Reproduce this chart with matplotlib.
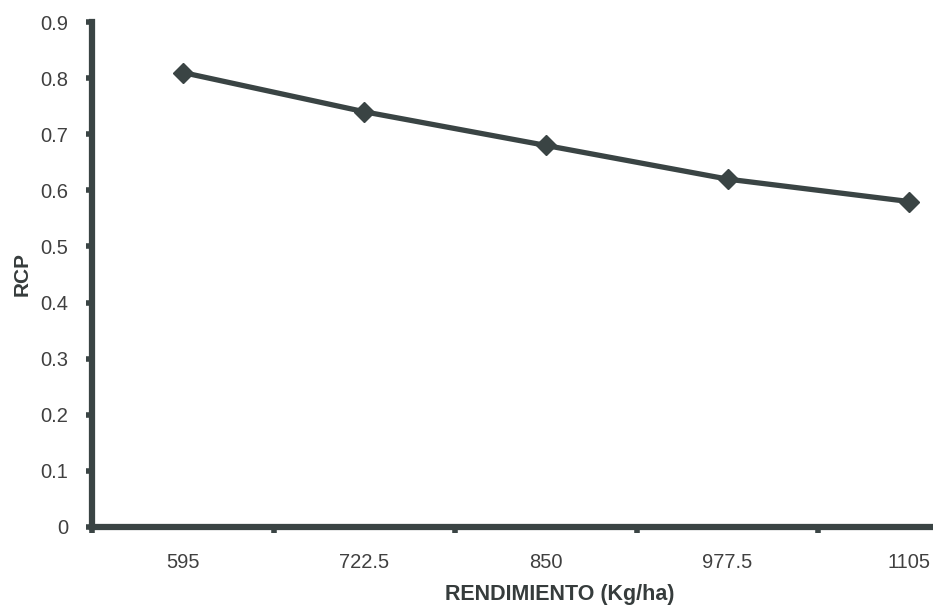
import matplotlib
matplotlib.use("Agg")
import matplotlib.pyplot as plt

# ---------- data ----------
rendimiento = ["595", "722.5", "850", "977.5", "1105"]
rcp = [0.81, 0.74, 0.68, 0.62, 0.58]
yticks = [0, 0.1, 0.2, 0.3, 0.4, 0.5, 0.6, 0.7, 0.8, 0.9]

DARK = "#3a4444"
TXT = "#404040"

plt.rcParams["font.family"] = ["Liberation Sans", "DejaVu Sans"]

fig = plt.figure(figsize=(9.33, 6.08), dpi=100)
# the original axis runs past the right edge of the picture
ax = fig.add_axes([92 / 933, 81 / 608, 908 / 933, 505 / 608])

x = list(range(len(rendimiento)))
ax.plot(x, rcp, "-", color=DARK, lw=3.8, marker="D", ms=10,
        mfc=DARK, mec=DARK, solid_joinstyle="round")

ax.set_xlim(-0.5, len(rendimiento) - 0.5)
ax.set_ylim(0, 0.9)

# categories centred between tick marks
ax.set_xticks([i - 0.5 for i in range(len(rendimiento) + 1)])
ax.set_xticklabels([])
ax.set_xticks(x, minor=True)
ax.set_xticklabels(rendimiento, minor=True, fontsize=14.5, color=TXT)
ax.tick_params(axis="x", which="minor", length=0, pad=19)
ax.tick_params(axis="x", which="major", length=4, width=4, color=DARK)

ax.set_yticks(yticks)
ax.set_yticklabels([f"{v:g}" for v in yticks], fontsize=14.5, color=TXT)
ax.tick_params(axis="y", length=4, width=4, color=DARK, pad=13)

for s in ["top", "right"]:
    ax.spines[s].set_visible(False)
for s in ["left", "bottom"]:
    ax.spines[s].set_linewidth(4.5)
    ax.spines[s].set_color(DARK)

ax.set_xlabel("RENDIMIENTO (Kg/ha)", fontsize=15.5, fontweight="bold", color="#363c3c")
ax.xaxis.set_label_coords(0.515, -0.112)
ax.set_ylabel("RCP", fontsize=15, fontweight="bold", color="#363c3c")
ax.yaxis.set_label_coords(-0.066, 0.5)

fig.savefig("out.png", dpi=100)
